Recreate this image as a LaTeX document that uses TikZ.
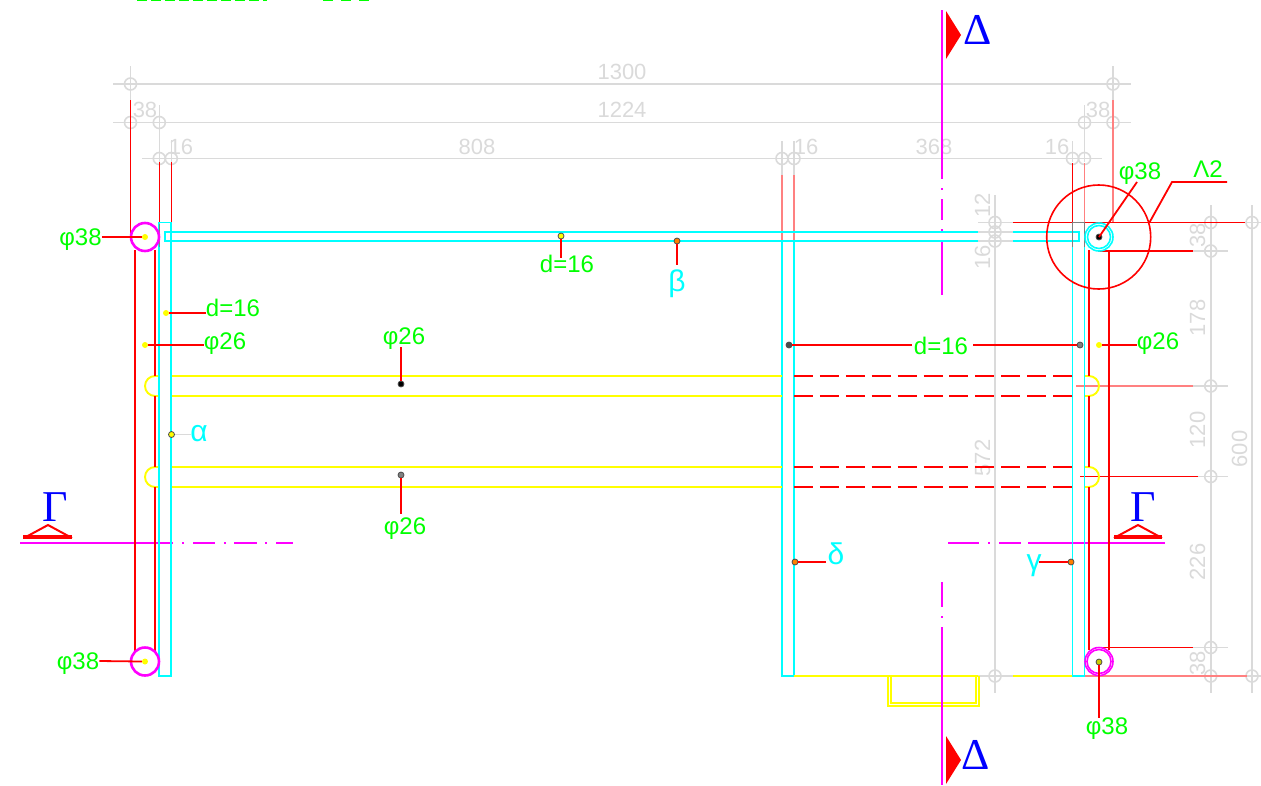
\documentclass[tikz,border=0pt]{standalone}
\usepackage{fontspec}
\setmainfont{Liberation Sans}
\newfontfamily\serifgr{Liberation Serif}
\usetikzlibrary{shapes,arrows.meta}
\definecolor{dimgray}{RGB}{218,218,218}
\definecolor{palered}{RGB}{255,128,128}
\definecolor{cadcyan}{RGB}{0,255,255}
\definecolor{cadmag}{RGB}{255,0,255}
\definecolor{cadyellow}{RGB}{255,255,0}
\definecolor{cadgreen}{RGB}{0,255,0}
\definecolor{cadblue}{RGB}{0,0,255}
\definecolor{cadred}{RGB}{255,0,0}
\begin{document}
\begin{tikzpicture}[x=1pt, y=-1pt,
  dimline/.style = {draw=dimgray, line width=1.6pt},
  dimmark/.style = {shape=circle, draw=dimgray, line width=1.6pt, minimum size=12pt, inner sep=0pt},
  dimtext/.style = {text=dimgray, inner sep=0pt, text height=16pt, text depth=0pt, font=\fontsize{22}{22}\selectfont},
  vdimtext/.style = {dimtext, rotate=90},
  greentext/.style = {text=cadgreen, inner sep=0pt, text height=17pt, text depth=0pt, font=\fontsize{24}{24}\selectfont},
  cyantext/.style = {text=cadcyan, inner sep=0pt, text height=14pt, text depth=0pt, font=\fontsize{30}{30}\selectfont},
  secttext/.style = {text=cadblue, inner sep=0pt, text height=29pt, text depth=0pt, font=\serifgr\fontsize{44}{44}\selectfont},
  dotmark/.style = {shape=circle, fill=cadyellow, minimum size=6pt, inner sep=0pt},
  blackdot/.style = {shape=circle, fill=#1, draw=black!70, line width=.8pt, minimum size=6pt, inner sep=0pt},
  leader/.style = {draw=cadred, line width=1.8pt},
  thinred/.style = {draw=cadred, line width=1.3pt},
  pale/.style = {draw=palered, line width=1.5pt},
  pipe/.style = {draw=cadred, line width=2pt},
  tube/.style = {draw=cadcyan, line width=1.9pt},
  plate/.style = {draw=cadyellow, line width=1.9pt},
  axis/.style = {draw=cadmag, line width=1.9pt},
  ]
  \useasboundingbox (0,0) rectangle (1261,785);

  % clipped title at the top edge
  \draw[cadgreen, line width=1.6pt, dash pattern=on 10pt off 4pt] (137,0.6) -- (267,0.6);
  \draw[cadgreen, line width=1.6pt, dash pattern=on 10pt off 8pt] (323,0.6) -- (375,0.6);

  % dimension lines
  \draw[dimline] (113,84) -- (1131,84);
  \draw[dimline] (113,122.5) -- (1131,122.5);
  \draw[dimline] (142,158.5) -- (1102,158.5);
  \draw[dimline] (130.5,66) -- (130.5,100) (1113,66) -- (1113,100);
  \draw[dimline] (159.3,105) -- (159.3,162) (1084.5,105) -- (1084.5,162);
  \draw[dimline] (171.3,140) -- (171.3,162) (1072.5,141) -- (1072.5,162);
  \draw[dimline] (782,141) -- (782,175) (794,141) -- (794,175);
  \draw[dimline] (995,195) -- (995,693);
  \draw[dimline] (1210.7,205) -- (1210.7,693);
  \draw[dimline] (1252,205) -- (1252,693);
  \foreach \y in {222.5,251,386,476.5,647.5,676}
    \draw[dimline] (1193,\y) -- (1228,\y);
  \draw[dimline] (978,222.5) -- (1013,222.5) (978,676) -- (1013,676);
  \draw[dimline] (978,232) -- (1013,232) (978,241) -- (1013,241);
  \draw[dimline] (1245,222.5) -- (1261,222.5) (1235,676) -- (1261,676);
  \foreach \x [count=\i] in {130.5,1113}
    \node[dimmark] (ma\i) at (\x,84) {};
  \foreach \x [count=\i] in {130.5,159.3,1084.5,1113}
    \node[dimmark] (mb\i) at (\x,122.5) {};
  \foreach \x [count=\i] in {159.3,171.3,782,794,1072.5,1084.5}
    \node[dimmark] (mc\i) at (\x,158.5) {};
  \foreach \y [count=\i] in {222.5,232,241,676}
    \node[dimmark] (md\i) at (995,\y) {};
  \foreach \y [count=\i] in {222.5,251,386,476.5,647.5,676}
    \node[dimmark] (me\i) at (1210.7,\y) {};
  \foreach \y [count=\i] in {222.5,676}
    \node[dimmark] (mf\i) at (1252,\y) {};

  \node[dimtext] (t1300) at (622,71) {1300};
  \node[dimtext] (t1224) at (622,109) {1224};
  \node[dimtext] (t38a) at (145,109) {38};
  \node[dimtext] (t38b) at (1098,109) {38};
  \node[dimtext] (t16a) at (181,146) {16};
  \node[dimtext] (t808) at (477,146) {808};
  \node[dimtext] (t16b) at (806,146) {16};
  \node[dimtext] (t368) at (934,146) {368};
  \node[dimtext] (t16c) at (1057,146) {16};
  \node[vdimtext] (t12) at (982,205) {12};
  \node[vdimtext] (t16d) at (982,257) {16};
  \node[vdimtext] (t572) at (982,458) {572};
  \node[vdimtext] (t38c) at (1197,235) {38};
  \node[vdimtext] (t178) at (1197,318) {178};
  \node[vdimtext] (t120) at (1197,430) {120};
  \node[vdimtext] (t600) at (1239,449) {600};
  \node[vdimtext] (t226) at (1197,562) {226};
  \node[vdimtext] (t38d) at (1197,663) {38};

  % extension lines
  \draw[thinred] (130.5,100) -- (130.5,237);
  \draw[pale] (1113,100) -- (1113,222.5);
  \draw[thinred] (159.3,162) -- (159.3,247) (171.3,162) -- (171.3,247);
  \draw[thinred] (1072.5,163) -- (1072.5,247);
  \draw[pale] (1084.5,163) -- (1084.5,247);
  \draw[pale] (782,175) -- (782,243) (794,175) -- (794,243);
  \draw[thinred] (1013,222.5) -- (1245,222.5);
  \draw[thinred] (1098,251) -- (1193,251);
  \draw[pale] (1076,386) -- (1193,386);
  \draw[thinred] (1080,476.5) -- (1198,476.5);
  \draw[thinred] (1097,647.5) -- (1193,647.5);
  \draw[pale] (1076,676) -- (1247,676);

  % axes
  \draw[axis] (942,10) -- (942,179) (942,188.2) -- (942,189.8) (942,199) -- (942,220)
    (942,229.2) -- (942,230.8) (942,240) -- (942,295);
  \draw[axis] (942,582) -- (942,607) (942,616.2) -- (942,617.8) (942,627) -- (942,785);
  \draw[axis] (20,543) -- (173,543) (182,543) -- (184,543) (193,543) -- (215,543)
    (224,543) -- (226,543) (234,543) -- (257,543) (265,543) -- (267,543) (276,543) -- (293,543);
  \draw[axis] (948,543) -- (979,543) (988,543) -- (990,543) (999,543) -- (1021,543) (1028,543) -- (1165,543);

  % frame
  \draw[tube] (159.3,222.5) rectangle (171.3,676);
  \draw[tube] (171.3,232) -- (165,232) -- (165,241) -- (171.3,241);
  \draw[tube] (171.3,232) -- (978,232) (1013,232) -- (1079,232) -- (1079,241) -- (1013,241) (978,241) -- (171.3,241);
  \draw[tube] (782,241) -- (782,676) -- (794,676) -- (794,241);
  \draw[tube] (1072.5,241) -- (1072.5,676) -- (1084.5,676) (1084.5,247) -- (1084.5,676);
  \draw[draw=gray, line width=1.4pt] (159.3,224) -- (159.3,247);
  \draw[draw=gray, line width=1.4pt] (1072.5,247) -- (1072.5,222.5) -- (1084.5,222.5) -- (1084.5,247);

  % rungs
  \foreach \y in {376,396,467,487} {
    \draw[plate] (172,\y) -- (782,\y);
    \draw[draw=cadred, line width=1.9pt, dash pattern=on 19pt off 6.9pt] (794,\y) -- (1072,\y);
  }
  \foreach \y in {386,477} {
    \draw[plate] (158,\y-10) -- (155,\y-10) arc (270:90:10) -- (158,\y+10);
    \draw[plate] (1085,\y-10) -- (1089,\y-10) arc (-90:90:10) -- (1085,\y+10);
  }

  % pipes
  \draw[pipe] (135,250) -- (135,652);
  \draw[pipe] (155,250) -- (155,376) (155,396) -- (155,467) (155,487) -- (155,652);
  \draw[pipe] (1108.5,250) -- (1108.5,650);
  \draw[pipe] (1089,250) -- (1089,376) (1089,396) -- (1089,467) (1089,487) -- (1089,650);

  % bottom plate
  \draw[plate] (794,676) -- (978,676) (1013,676) -- (1072,676);
  \draw[plate] (888,676) -- (888,706) -- (979,706) -- (979,676);
  \draw[plate] (891,676) -- (891,703) -- (976,703) -- (976,676);
  \draw[axis] (942,670) -- (942,710);

  % section marks
  \fill[cadred] (946,11) -- (961,35) -- (946,59) -- cycle;
  \fill[cadred] (946,736) -- (961,760) -- (946,784) -- cycle;
  \draw[cadred, line width=2pt] (24,538) -- (48,525) -- (72,538);
  \draw[cadred, line width=3.5pt] (23,537) -- (72,537);
  \draw[cadred, line width=2pt] (1114,538) -- (1138,525) -- (1162,538);
  \draw[cadred, line width=3.5pt] (1114,537) -- (1162,537);
  \node[secttext] (secA) at (55,506.5) {Γ};
  \node[secttext] (secB) at (1143,506.5) {Γ};
  \node[secttext] (secC) at (977.5,29.5) {Δ};
  \node[secttext] (secD) at (975.5,754.5) {Δ};

  % joints
  \node[shape=circle, draw=cadmag, line width=2.6pt, minimum size=28pt, inner sep=0pt] (jointA) at (145,237) {};
  \node[shape=circle, draw=cadmag, line width=2.6pt, minimum size=28pt, inner sep=0pt] (jointB) at (145,661.5) {};
  \node[shape=circle, draw=cadcyan, line width=1.6pt, minimum size=28pt, inner sep=0pt] (jointC) at (1099,237) {};
  \node[shape=circle, draw=cadcyan, line width=1.6pt, minimum size=23pt, inner sep=0pt] (jointCi) at (1099,237) {};
  \node[shape=circle, draw=cadmag, line width=1.6pt, minimum size=28pt, inner sep=0pt] (jointD) at (1099,661.5) {};
  \node[shape=circle, draw=cadmag, line width=1.6pt, minimum size=24pt, inner sep=0pt] (jointDi) at (1099,661.5) {};
  \node[shape=circle, draw=cadred, line width=1.6pt, minimum size=104pt, inner sep=0pt] (detail) at (1098.7,237) {};

  % labels
  \node[greentext] (lA) at (80.5,237) {φ38};
  \node[greentext] (lB) at (78,661) {φ38};
  \node[greentext] (lC) at (567,264) {d=16};
  \node[greentext] (lD) at (233,308) {d=16};
  \node[greentext] (lE) at (225,341) {φ26};
  \node[greentext] (lF) at (404,336) {φ26};
  \node[greentext] (lG) at (405,526) {φ26};
  \node[greentext] (lH) at (941,346) {d=16};
  \node[greentext] (lI) at (1158,341) {φ26};
  \node[greentext] (lJ) at (1140,171) {φ38};
  \node[greentext] (lK) at (1107,726) {φ38};
  \node[greentext] (lL) at (1208,169) {Λ2};
  \node[cyantext] (lM) at (677,284) {β};
  \node[cyantext] (lN) at (199,434) {α};
  \node[cyantext] (lO) at (836,557) {δ};
  \node[cyantext] (lP) at (1034,563) {γ};

  % points
  \node[dotmark] (pA) at (145,237) {};
  \node[dotmark] (pB) at (145,661.5) {};
  \node[blackdot=cadyellow] (pC) at (561,236) {};
  \node[dotmark] (pD) at (166,313) {};
  \node[dotmark] (pE) at (145,345) {};
  \node[blackdot=black] (pF) at (401,384) {};
  \node[blackdot=gray] (pG) at (401,475) {};
  \node[blackdot=black!70] (pH) at (789,345) {};
  \node[blackdot=gray] (pHb) at (1080,345) {};
  \node[dotmark] (pI) at (1099,345) {};
  \node[blackdot=black] (pJ) at (1099,237) {};
  \node[blackdot=cadyellow!80!black] (pK) at (1099,662) {};
  \node[blackdot=orange] (pM) at (677,241) {};
  \node[blackdot=cadyellow] (pN) at (171.5,434.5) {};
  \node[blackdot=orange] (pO) at (795,562) {};
  \node[blackdot=orange] (pP) at (1071,562) {};

  % leaders
  \draw[leader] (lA.east) -- (pA.west);
  \draw[leader] (lB.east) -- (pB.west);
  \draw[leader] (pC) -- (561,258);
  \draw[leader] (pD) -- (lD.west |- pD);
  \draw[leader] (pE) -- (lE.west |- pE);
  \draw[leader] (pF) -- (401,347);
  \draw[leader] (pG) -- (401,514);
  \draw[leader] (pH) -- (912,345);
  \draw[leader] (973,345) -- (pHb);
  \draw[leader] (pI) -- (1137,345);
  \draw[leader] (pJ.center) -- (1137,182);
  \draw[leader] (pK) -- (1099,718);
  \draw[leader] (detail.16) -- (1172,182) -- (1227,182);
  \draw[leader] (pM) -- (677,265);
  \draw[dimline] (pN) -- (191,434.5);
  \draw[leader] (pO) -- (826,562);
  \draw[leader] (pP) -- (1039,562);
\end{tikzpicture}
\end{document}
